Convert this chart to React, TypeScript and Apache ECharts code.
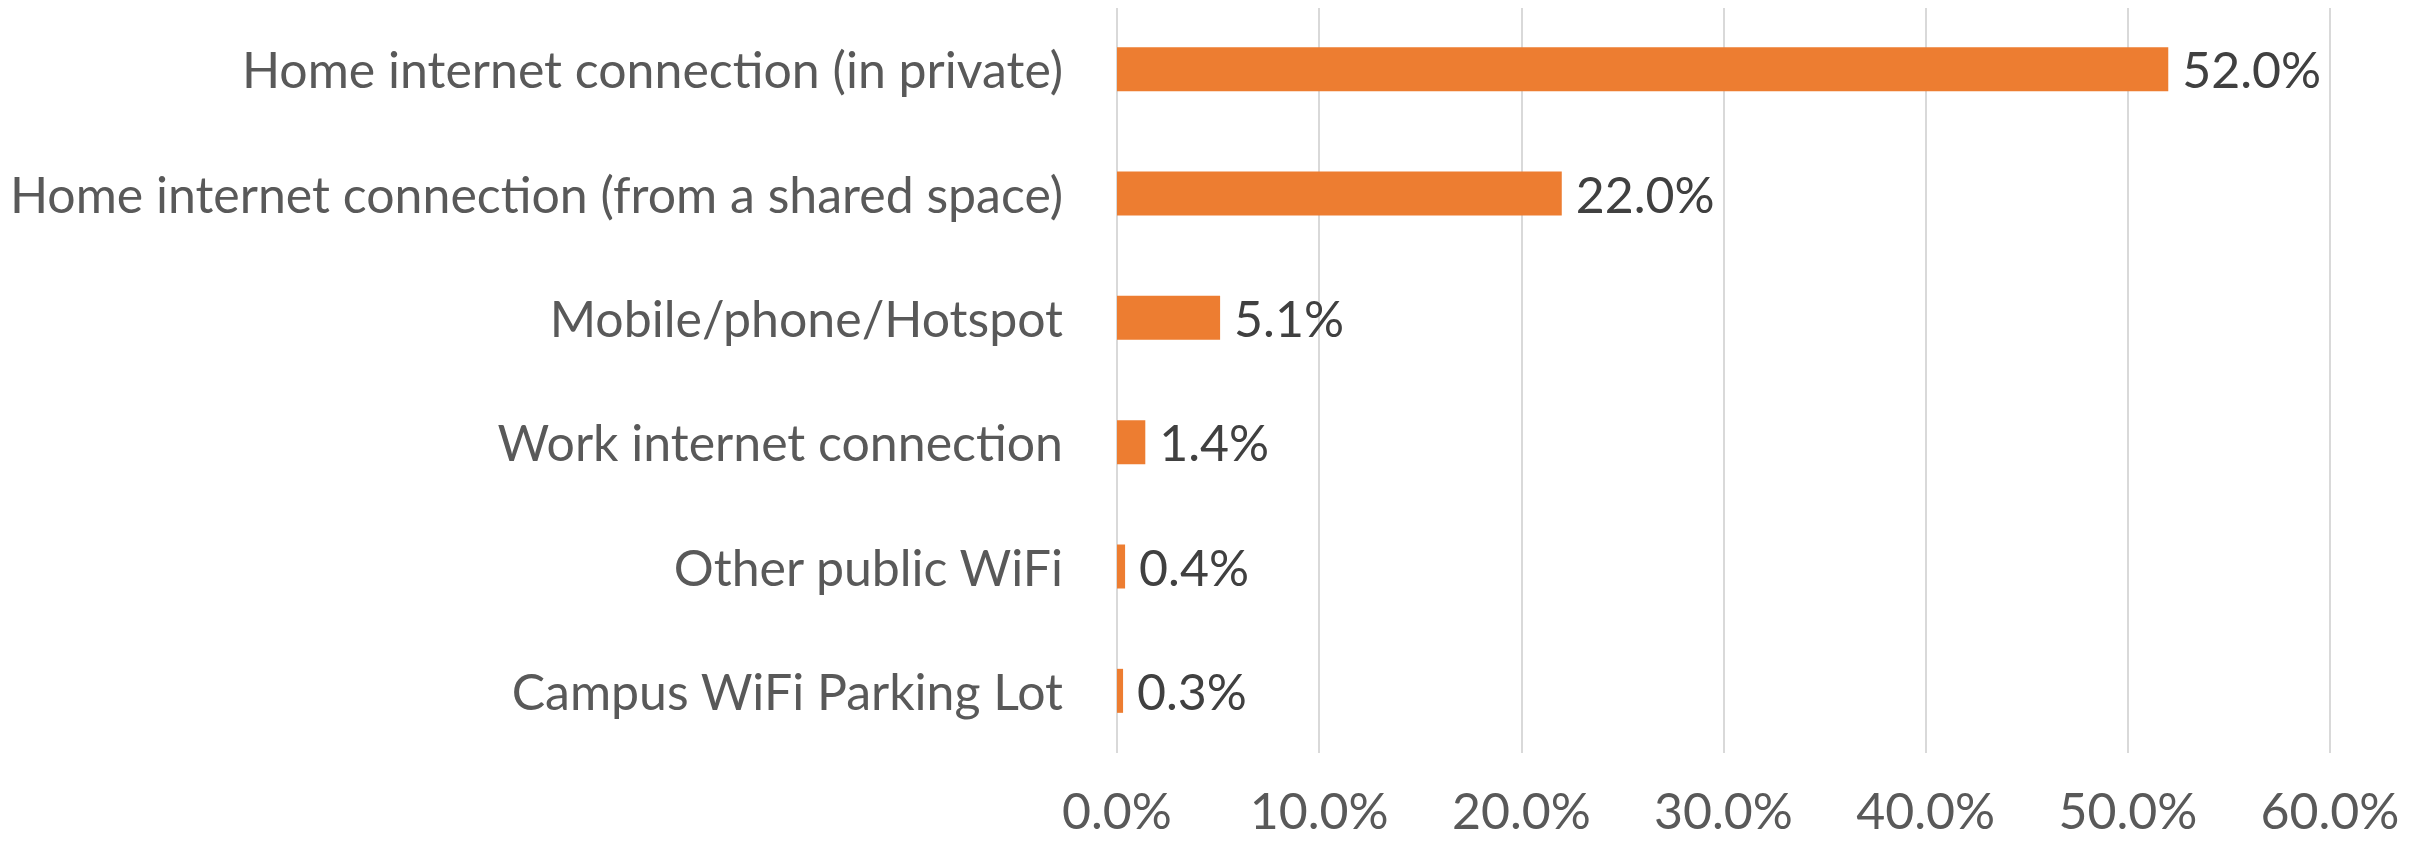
import React, { useEffect, useRef } from "react";
import * as echarts from "echarts";

const categories = [
  "Home internet connection (in private)",
  "Home internet connection (from a shared space)",
  "Mobile/phone/Hotspot",
  "Work internet connection",
  "Other public WiFi",
  "Campus WiFi Parking Lot",
];
const values = [52.0, 22.0, 5.1, 1.4, 0.4, 0.3];
const xTicks = [0, 10, 20, 30, 40, 50, 60];

const FONT = "Lato";
const FS = 50;

export default function App() {
  const ref = useRef<HTMLDivElement>(null);
  useEffect(() => {
    if (!ref.current) return;
    const chart = echarts.init(ref.current, undefined, { renderer: "svg" });
    chart.setOption({
      animation: false,
      backgroundColor: "#ffffff",
      grid: { left: 1117, right: 97, top: 7, bottom: 90, containLabel: false },
      xAxis: {
        type: "value",
        min: xTicks[0],
        max: xTicks[xTicks.length - 1],
        interval: 10,
        axisLine: { show: false },
        axisTick: { show: false },
        splitLine: { show: true, lineStyle: { color: "#D9D9D9", width: 2 } },
        axisLabel: {
          color: "#595959",
          fontFamily: FONT,
          fontSize: FS,
          lineHeight: 38,
          margin: 57,
          verticalAlign: "middle",
          formatter: (v: number) => `${v.toFixed(1)}%`,
        },
      },
      yAxis: {
        type: "category",
        inverse: true,
        data: categories,
        axisLine: { show: false },
        axisTick: { show: false },
        axisLabel: {
          color: "#595959",
          fontFamily: FONT,
          fontSize: FS,
          margin: 54,
        },
      },
      series: [
        {
          type: "bar",
          data: values,
          barWidth: 44,
          itemStyle: { color: "#ED7D31" },
          label: {
            show: true,
            position: "right",
            distance: 14,
            color: "#404040",
            fontFamily: FONT,
            fontSize: FS,
            formatter: (p: any) => `${Number(p.value).toFixed(1)}%`,
          },
        },
      ],
    });
    return () => chart.dispose();
  }, []);
  return <div ref={ref} style={{ width: 2427, height: 843, margin: -8 }} />;
}
